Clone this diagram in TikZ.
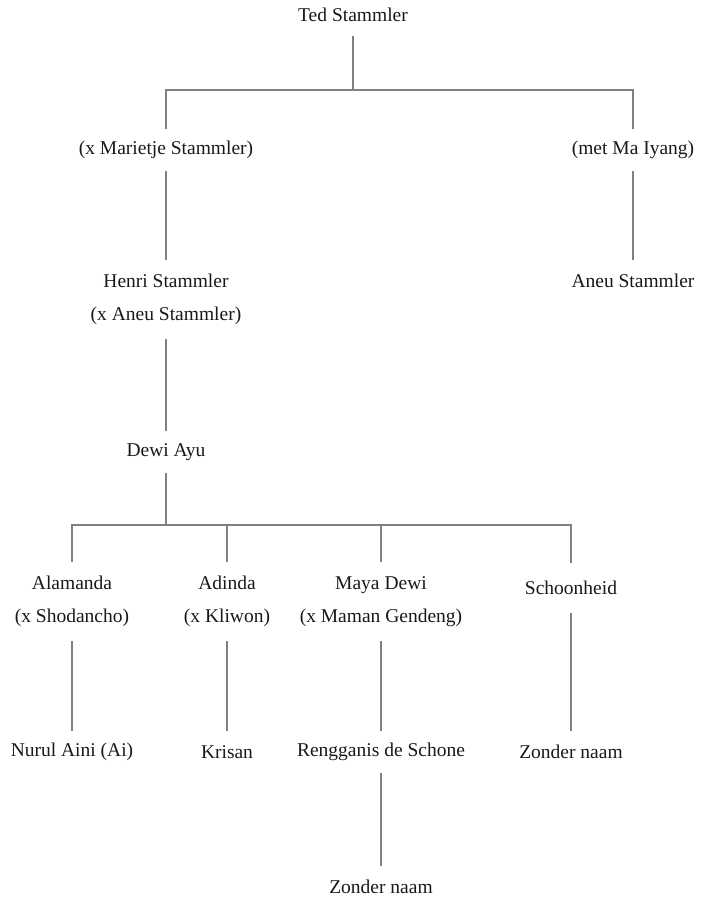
\documentclass[tikz,border=0pt]{standalone}
\usepackage{fontspec}
\setmainfont{Liberation Serif}
\usepackage{tikz}
\usetikzlibrary{calc}
\tikzset{x=1pt, y=-1pt,
    person/.style={align=center, inner sep=0pt, minimum height=42pt,
          font=\fontsize{19.5}{33}\selectfont, text=black!90},
    couple/.style={person, minimum height=79pt},
    kin line/.style={draw=black!50, line width=1.1pt}
}
\def\Person#1#2#3#4{%
 \node[#1] (#2) at (#3) {#4};
}

\begin{document}
\begin{tikzpicture}
\useasboundingbox (0,0) rectangle (702,898);
\Person{person}{ted}{353,15}{Ted Stammler}
\Person{person}{marietje}{166,150}{(x Marietje Stammler)}
\Person{person}{iyang}{633,150}{(met Ma Iyang)}
\Person{couple}{henri}{166,299.5}{Henri Stammler\\(x Aneu Stammler)}
\Person{person}{aneu}{633,281}{Aneu Stammler}
\Person{person}{dewi}{166,452}{Dewi Ayu}
\Person{couple}{alamanda}{72,601.5}{Alamanda\\(x Shodancho)}
\Person{couple}{adinda}{227,601.5}{Adinda\\(x Kliwon)}
\Person{couple}{maya}{381,601.5}{Maya Dewi\\(x Maman Gendeng)}
\Person{person, minimum height=50pt}{schoon}{571,588}{Schoonheid}
\Person{person}{nurul}{72,752}{Nurul Aini (Ai)}
\Person{person}{krisan}{227,752}{Krisan}
\Person{person}{rengganis}{381,752}{Rengganis de Schone}
\Person{person}{zonder}{571,752}{Zonder naam}
\Person{person}{zonderkind}{381,887}{Zonder naam}

\coordinate (tedfork) at (353,90);
\coordinate (dewifork) at (166,525);
\draw[kin line] (ted) -- (tedfork);
\draw[kin line] (marietje) |- (tedfork) -| (iyang);
\draw[kin line] (marietje) -- (henri);
\draw[kin line] (iyang) -- (aneu);
\draw[kin line] (henri) -- (dewi);
\draw[kin line] (dewi) -- (dewifork);
\foreach \kid in {alamanda,adinda,maya,schoon}
  \draw[kin line] (dewifork) -| (\kid);
\draw[kin line] (alamanda) -- (nurul);
\draw[kin line] (adinda) -- (krisan);
\draw[kin line] (maya) -- (rengganis);
\draw[kin line] (schoon) -- (zonder);
\draw[kin line] (rengganis) -- (zonderkind);
\end{tikzpicture}
\end{document}
